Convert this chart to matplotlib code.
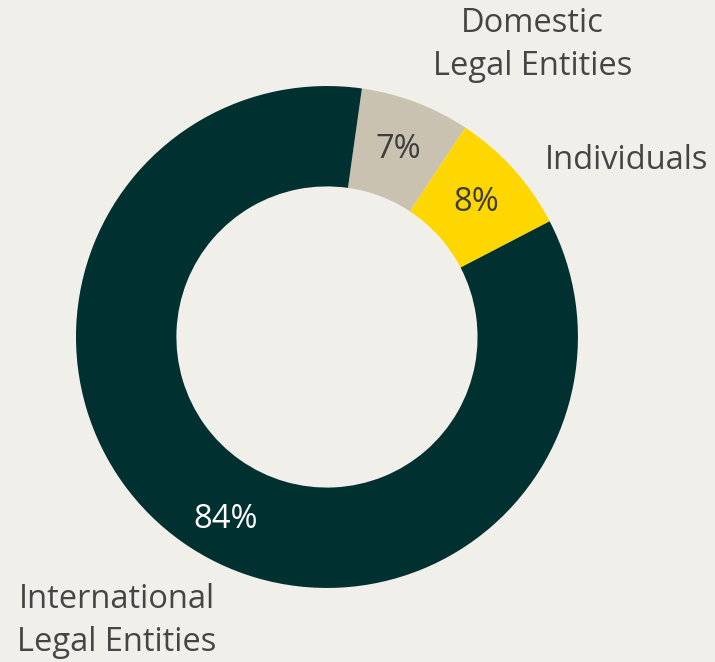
import numpy as np
import matplotlib
matplotlib.use("Agg")
import matplotlib.pyplot as plt

# Ownership shares, drawn clockwise from just right of 12 o'clock
categories = ["Domestic\nLegal Entities", "Individuals", "International\nLegal Entities"]
shares = [7, 8, 84]
colors = ["#C9C2B0", "#FFD700", "#003030"]
pct_colors = ["#3D3D3D", "#3D3D3D", "#FFFFFF"]

bg = "#F1EFEA"
text_color = "#454545"
plt.rcParams["font.family"] = ["Open Sans", "DejaVu Sans"]

fig = plt.figure(figsize=(7.15, 6.62), dpi=100, facecolor=bg)
ax = fig.add_axes([0.1063, 0.1118, 0.702, 0.7583])
ax.set_facecolor(bg)

wedges, texts, autotexts = ax.pie(
    shares,
    colors=colors,
    startangle=82,
    counterclock=False,
    radius=1.0,
    autopct="%d%%",
    pctdistance=0.8,
    wedgeprops=dict(width=0.4, linewidth=0),
    textprops=dict(fontsize=23.5),
)
for t, c in zip(autotexts, pct_colors):
    t.set_color(c)

# nudge the big slice's label a little toward the bottom
ang = np.deg2rad(-119)
autotexts[2].set_position((0.83 * np.cos(ang), 0.83 * np.sin(ang)))

ax.set_xlim(-1, 1)
ax.set_ylim(-1, 1)
ax.set_aspect("equal")
ax.axis("off")

# Outer category labels
label_kw = dict(fontsize=23.5, color=text_color, linespacing=1.4)
ax.text(0.82, 1.165, categories[0], ha="center", va="center", **label_kw)
ax.text(0.869, 0.705, categories[1], ha="left", va="center", **label_kw)
ax.text(-0.837, -1.13, categories[2], ha="center", va="center", **label_kw)

fig.savefig("out.png", dpi=100, facecolor=bg)
